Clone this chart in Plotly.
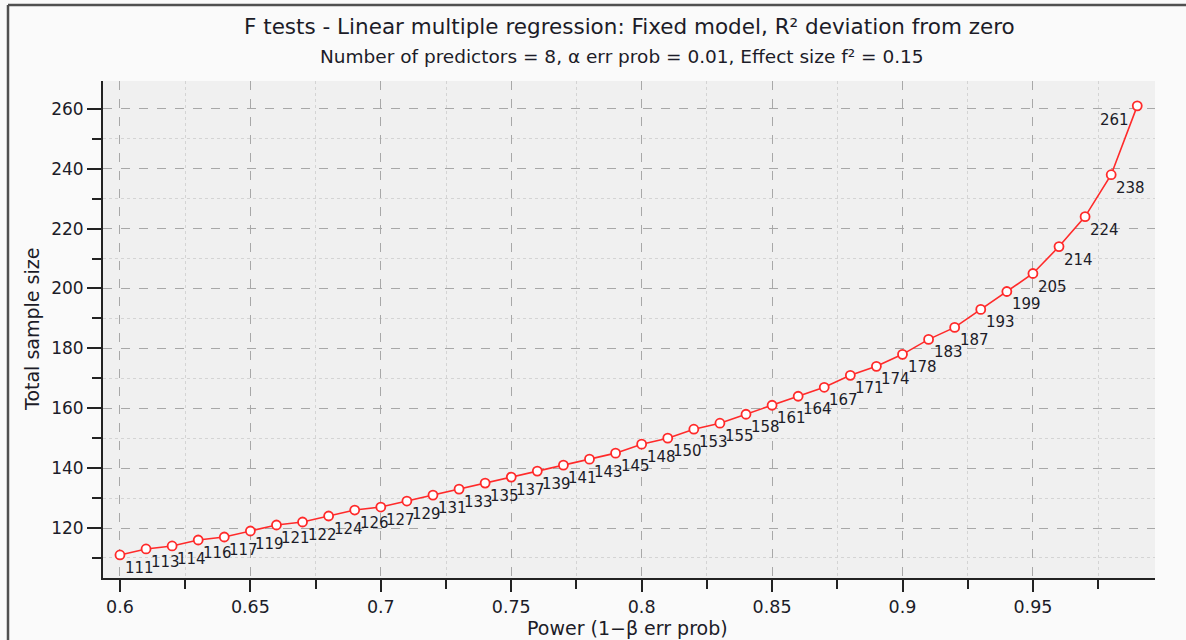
import plotly.graph_objects as go

# Data
power = [0.60, 0.61, 0.62, 0.63, 0.64, 0.65, 0.66, 0.67, 0.68, 0.69,
         0.70, 0.71, 0.72, 0.73, 0.74, 0.75, 0.76, 0.77, 0.78, 0.79,
         0.80, 0.81, 0.82, 0.83, 0.84, 0.85, 0.86, 0.87, 0.88, 0.89,
         0.90, 0.91, 0.92, 0.93, 0.94, 0.95, 0.96, 0.97, 0.98, 0.99]
sample_size = [111, 113, 114, 116, 117, 119, 121, 122, 124, 126,
               127, 129, 131, 133, 135, 137, 139, 141, 143, 145,
               148, 150, 153, 155, 158, 161, 164, 167, 171, 174,
               178, 183, 187, 193, 199, 205, 214, 224, 238, 261]

title_text = "F tests - Linear multiple regression: Fixed model, R² deviation from zero"
subtitle_text = "Number of predictors = 8, α err prob = 0.01, Effect size f² = 0.15"
x_title = "Power (1−β err prob)"
y_title = "Total sample size"

x_ticks = [0.6, 0.65, 0.7, 0.75, 0.8, 0.85, 0.9, 0.95]
y_ticks = [120, 140, 160, 180, 200, 220, 240, 260]

FONT = "DejaVu Sans"
RED = "#ff2a2a"
TXT = "#1c1c28"

# plot area in pixels
L, R, T, B = 103, 1155, 81, 578
W, H = 1186, 640
pw, ph = R - L, B - T

def px(x):
    return (x - L) / pw

def py(y):
    return (B - y) / ph

fig = go.Figure()
fig.add_trace(go.Scatter(
    x=power, y=sample_size, mode="lines+markers",
    line=dict(color=RED, width=1.6),
    marker=dict(size=9, color="white", line=dict(color=RED, width=1.8)),
    hoverinfo="x+y", showlegend=False,
))

annotations = []
last = len(power) - 1
for i, (xv, yv) in enumerate(zip(power, sample_size)):
    if i == last:
        annotations.append(dict(x=xv, y=yv, text=str(yv), showarrow=False,
                                xanchor="right", yanchor="top", xshift=-6, yshift=-3,
                                font=dict(family=FONT, size=15, color=TXT)))
    else:
        annotations.append(dict(x=xv, y=yv, text=str(yv), showarrow=False,
                                xanchor="left", yanchor="top", xshift=3, yshift=-2,
                                font=dict(family=FONT, size=15, color=TXT)))

annotations += [
    dict(xref="paper", yref="paper", x=px(629), y=py(27), text=title_text,
         showarrow=False, xanchor="center", yanchor="middle",
         font=dict(family=FONT, size=21.5, color=TXT)),
    dict(xref="paper", yref="paper", x=px(622), y=py(56), text=subtitle_text,
         showarrow=False, xanchor="center", yanchor="middle",
         font=dict(family=FONT, size=18.5, color=TXT)),
    dict(xref="paper", yref="paper", x=px(627), y=py(628), text=x_title,
         showarrow=False, xanchor="center", yanchor="middle",
         font=dict(family=FONT, size=19, color=TXT)),
    dict(xref="paper", yref="paper", x=px(32), y=py(330), text=y_title,
         showarrow=False, xanchor="center", yanchor="middle", textangle=-90,
         font=dict(family=FONT, size=19, color=TXT)),
]

shapes = [
    dict(type="line", xref="paper", yref="paper", x0=px(8), x1=px(W), y0=py(5), y1=py(5),
         line=dict(color="#505050", width=2.5)),
    dict(type="line", xref="paper", yref="paper", x0=px(8), x1=px(8), y0=py(5), y1=py(H),
         line=dict(color="#505050", width=2.5)),
]

fig.update_layout(
    width=W, height=H,
    margin=dict(l=L, r=W - R, t=T, b=H - B, autoexpand=False),
    paper_bgcolor="#fafafa",
    plot_bgcolor="#f0f0f0",
    font=dict(family=FONT, color=TXT),
    annotations=annotations,
    shapes=shapes,
    xaxis=dict(
        range=[0.5935, 0.9968], tickvals=x_ticks, ticktext=[str(v) for v in x_ticks],
        ticks="outside", ticklen=12, tickwidth=2, tickcolor="#222",
        showline=True, linecolor="#222", linewidth=2, mirror=False,
        showgrid=True, gridcolor="#a8a8a8", griddash="dash", gridwidth=1,
        zeroline=False, tickfont=dict(family=FONT, size=17.5, color=TXT),
        minor=dict(tickvals=[0.625, 0.675, 0.725, 0.775, 0.825, 0.875, 0.925, 0.975],
                   ticks="outside", ticklen=9, tickwidth=2, tickcolor="#222",
                   showgrid=True, gridcolor="#d4d4d4", griddash="dot", gridwidth=1),
    ),
    yaxis=dict(
        range=[103.3, 269.3], tickvals=y_ticks,
        ticks="outside", ticklen=14, tickwidth=2, tickcolor="#222",
        showline=True, linecolor="#222", linewidth=2, mirror=False,
        showgrid=True, gridcolor="#a8a8a8", griddash="dash", gridwidth=1,
        zeroline=False, tickfont=dict(family=FONT, size=17, color=TXT),
        minor=dict(tickvals=[110, 130, 150, 170, 190, 210, 230, 250],
                   ticks="outside", ticklen=9, tickwidth=2, tickcolor="#222",
                   showgrid=True, gridcolor="#d4d4d4", griddash="dot", gridwidth=1),
    ),
)

fig.write_html("out.html", config={"displayModeBar": False},
               post_script="document.body.style.margin='0px';")
